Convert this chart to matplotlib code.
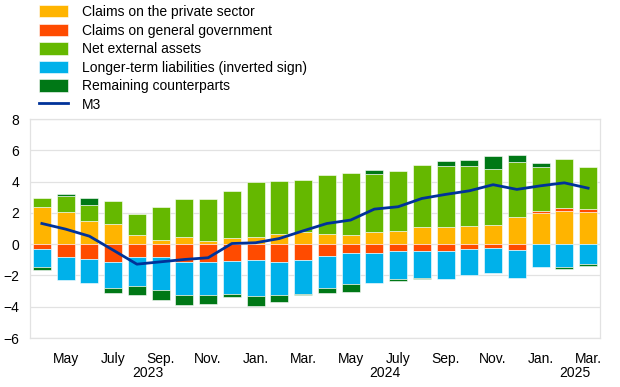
import numpy as np
import matplotlib.pyplot as plt
from matplotlib.patches import Patch
from matplotlib.lines import Line2D
from matplotlib.transforms import blended_transform_factory

plt.rcParams['font.family'] = ['Liberation Sans', 'DejaVu Sans']
plt.rcParams['font.size'] = 10

# April 2023 - March 2025, monthly
months = ['Apr', 'May', 'Jun', 'Jul', 'Aug', 'Sep', 'Oct', 'Nov', 'Dec',
          'Jan', 'Feb', 'Mar', 'Apr', 'May', 'Jun', 'Jul', 'Aug', 'Sep',
          'Oct', 'Nov', 'Dec', 'Jan', 'Feb', 'Mar']

private = [2.35, 2.07, 1.47, 1.30, 0.58, 0.28, 0.45, 0.21, 0.38, 0.43, 0.64, 0.75,
           0.68, 0.58, 0.79, 0.81, 1.07, 1.07, 1.15, 1.24, 1.73, 2.00, 2.13, 2.05]
government = [-0.32, -0.85, -0.98, -1.11, -0.81, -0.83, -1.13, -1.13, -1.07, -1.00, -1.13, -1.02,
              -0.75, -0.58, -0.55, -0.41, -0.43, -0.47, -0.30, -0.23, -0.38, 0.13, 0.15, 0.17]
net_external = [0.63, 1.00, 1.02, 1.47, 1.36, 2.07, 2.43, 2.69, 3.03, 3.56, 3.41, 3.34,
                3.75, 3.98, 3.67, 3.84, 4.00, 3.90, 3.82, 3.54, 3.49, 2.82, 3.14, 2.73]
longer_term = [-1.13, -1.41, -1.49, -1.68, -1.86, -2.07, -2.15, -2.13, -2.09, -2.30, -2.15, -2.15,
               -2.07, -1.94, -1.94, -1.81, -1.75, -1.73, -1.68, -1.64, -1.81, -1.49, -1.45, -1.26]
remaining = [-0.21, 0.15, 0.47, -0.36, -0.60, -0.64, -0.62, -0.58, -0.23, -0.64, -0.43, -0.10,
             -0.30, -0.53, 0.28, -0.11, -0.04, 0.36, 0.41, 0.87, 0.47, 0.26, -0.11, -0.13]
m3 = [1.32, 0.96, 0.51, -0.38, -1.28, -1.13, -0.98, -0.87, 0.04, 0.09, 0.36, 0.85,
      1.32, 1.54, 2.24, 2.39, 2.92, 3.18, 3.41, 3.80, 3.50, 3.73, 3.92, 3.58]

tick_labels = ['May', 'July', 'Sep.', 'Nov.', 'Jan.', 'Mar.',
               'May', 'July', 'Sep.', 'Nov.', 'Jan.', 'Mar.']
years = ['2023', '2024', '2025']

series = [
    ('Claims on the private sector', private, '#FFB400'),
    ('Claims on general government', government, '#FF4B00'),
    ('Net external assets', net_external, '#65B800'),
    ('Longer-term liabilities (inverted sign)', longer_term, '#00B1EA'),
    ('Remaining counterparts', remaining, '#007816'),
]

fig = plt.figure(figsize=(6.2, 3.87), dpi=100)
ax = fig.add_axes([0.0484, 0.1266, 0.9193, 0.5659])

x = np.arange(len(months))
pos_base = np.zeros(len(x))
neg_base = np.zeros(len(x))
for name, vals, col in series:
    v = np.array(vals)
    bottom = np.where(v >= 0, pos_base, neg_base)
    ax.bar(x, v, 0.76, bottom=bottom, color=col, edgecolor='white', linewidth=0.4, zorder=2)
    pos_base += np.where(v >= 0, v, 0)
    neg_base += np.where(v < 0, v, 0)

ax.plot(x, m3, color='#003299', lw=2, zorder=3)

ax.set_xlim(-0.5, len(x) - 0.5)
ax.set_ylim(-6, 8)
ax.set_yticks(np.arange(-6, 9, 2))
ax.grid(axis='y', color='#e2e2e2', lw=0.9, zorder=0)
for s in ax.spines.values():
    s.set_color('#e2e2e2')
    s.set_linewidth(0.9)
ax.tick_params(length=0)
ax.tick_params(axis='y', pad=8)
ax.tick_params(axis='x', pad=10)
ax.set_xticks(x[1::2])
ax.set_xticklabels(tick_labels)

trans = blended_transform_factory(ax.transData, ax.transAxes)
for yr, xp in zip(years, [4.46, 14.44, 22.44]):
    ax.text(xp, -0.158, yr, transform=trans, ha='center', va='center')

handles = [Patch(facecolor=c, edgecolor='white', linewidth=0.4) for _, _, c in series]
handles.append(Line2D([0], [0], color='#003299', lw=2))
labels = [n for n, _, _ in series] + ['M3']
fig.legend(handles, labels, loc='upper left', bbox_to_anchor=(39 / 620, 1 - 5 / 387),
           frameon=False, borderpad=0, borderaxespad=0, handlelength=2.1,
           handleheight=1.0, handletextpad=1.0, labelspacing=0.33)

fig.savefig('out.png', dpi=100)
